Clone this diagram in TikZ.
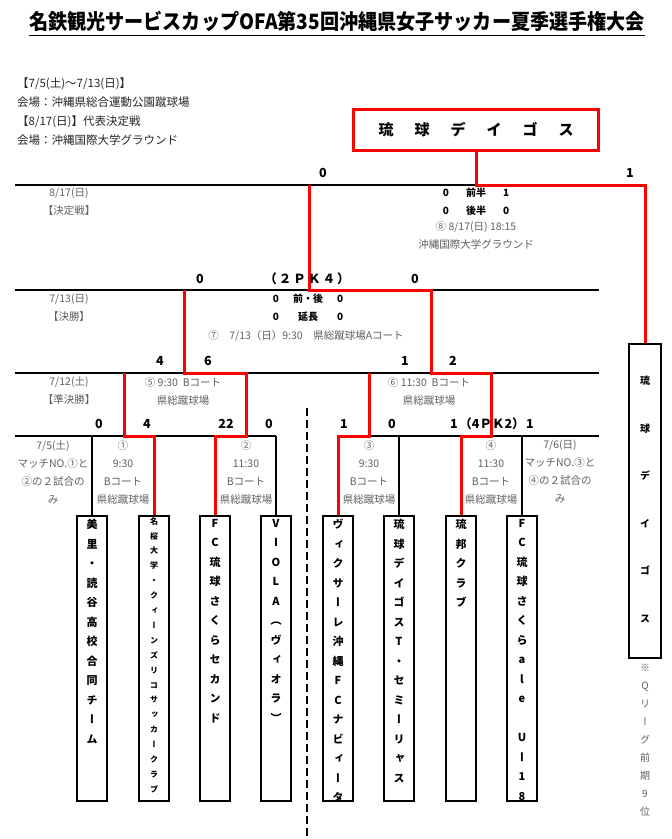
\documentclass[tikz,border=0pt]{standalone}
\usepackage{fontspec}
\setmainfont{Noto Sans CJK JP}
\newfontfamily\vfont{Noto Sans CJK JP}[RawFeature=+vert]
\usepackage{tikz}
\usetikzlibrary{positioning}
\definecolor{txtgray}{RGB}{95,95,95}
\tikzstyle{rule} = [line width=1.1pt]
\tikzstyle{win} = [red, line width=3pt]
\tikzstyle{team} = [draw, line width=1.1pt, minimum width=30pt, minimum height=285pt, inner sep=0pt]
\tikzstyle{tname} = [anchor=north, inner sep=0pt, align=center, font=\vfont\bfseries\fontsize{11}{19.5}\selectfont]
\tikzstyle{score} = [inner sep=0pt, font=\bfseries\fontsize{12.5}{14}\selectfont]
\tikzstyle{half} = [inner sep=0pt, font=\bfseries\fontsize{10}{12}\selectfont]
\tikzstyle{info} = [inner sep=0pt, text=txtgray, align=center, font=\fontsize{10.5}{18}\selectfont]

\begin{document}
\begin{tikzpicture}[yscale=-1]
			\useasboundingbox (0pt,0pt) rectangle (672pt,839pt);
			% title and dates
			\node[inner xsep=0pt, inner ysep=4pt, font=\bfseries\fontsize{21}{24}\selectfont] (title) at (337pt,21pt) {\scalebox{0.91}[1]{名鉄観光サービスカップOFA第35回沖縄県女子サッカー夏季選手権大会}};
			\draw[line width=1.2pt] (title.south west) -- (title.south east);
			\node[anchor=north west, align=left, inner sep=0pt, text=black!85, font=\fontsize{11.5}{19}\selectfont] (venue) at (17pt,78pt) {【7/5(土)～7/13(日)】\\会場：沖縄県総合運動公園蹴球場\\【8/17(日)】代表決定戦\\会場：沖縄国際大学グラウンド};
			% boxes
			\node[draw=red, line width=3pt, minimum width=245pt, minimum height=41pt, font=\bfseries\fontsize{15}{18}\selectfont] (champ) at (476pt,130pt) {琉\hspace{21pt}球\hspace{21pt}デ\hspace{21pt}イ\hspace{21pt}ゴ\hspace{21pt}ス};
			\node[team, minimum width=32pt, minimum height=314pt] (seed) at (645pt,501pt) {};
			\node[tname, font=\vfont\bfseries\fontsize{10}{47.5}\selectfont] (seedname) at (645pt,376pt) {琉\\球\\デ\\イ\\ゴ\\ス};
			\node[tname, font=\vfont\fontsize{10}{18}\selectfont, text=txtgray] (seednote) at (645pt,664pt) {※\\Q\\リ\\ー\\グ\\前\\期\\9\\位};
			\node[team] (t1) at (92pt,658.5pt) {};
			\node[team] (t2) at (154pt,658.5pt) {};
			\node[team] (t3) at (215pt,658.5pt) {};
			\node[team] (t4) at (276pt,658.5pt) {};
			\node[team] (t5) at (338pt,658.5pt) {};
			\node[team] (t6) at (399pt,658.5pt) {};
			\node[team] (t7) at (461pt,658.5pt) {};
			\node[team] (t8) at (522pt,658.5pt) {};
			\node[tname] (n1) at (92pt,519pt) {美\\里\\・\\読\\谷\\高\\校\\合\\同\\チ\\ー\\ム};
			\node[tname, font=\vfont\bfseries\fontsize{8}{14.9}\selectfont] (n2) at (154pt,517pt) {名\\桜\\大\\学\\・\\ク\\ィ\\ー\\ン\\ズ\\リ\\コ\\サ\\ッ\\カ\\ー\\ク\\ラ\\ブ};
			\node[tname] (n3) at (215pt,519pt) {F\\C\\琉\\球\\さ\\く\\ら\\セ\\カ\\ン\\ド};
			\node[tname] (n4) at (276pt,519pt) {V\\I\\O\\L\\A\\（\\ヴ\\ィ\\オ\\ラ\\）};
			\node[tname] (n5) at (338pt,519pt) {ヴ\\ィ\\ク\\サ\\ー\\レ\\沖\\縄\\F\\C\\ナ\\ビ\\ィ\\ー\\タ};
			\node[tname] (n6) at (399pt,519pt) {琉\\球\\デ\\イ\\ゴ\\ス\\T\\・\\セ\\ミ\\ー\\リ\\ャ\\ス};
			\node[tname] (n7) at (461pt,519pt) {琉\\邦\\ク\\ラ\\ブ};
			\node[tname] (n8) at (522pt,519pt) {F\\C\\琉\\球\\さ\\く\\ら\\a\\l\\e\\~\\U\\ー\\1\\8};
			% rows and columns
			\coordinate (r4) at (15pt,185pt);
			\coordinate (r3) at (15pt,290pt);
			\coordinate (r2) at (15pt,373pt);
			\coordinate (r1) at (15pt,436pt);
			\coordinate (re) at (599pt,0pt);
			\coordinate (c1) at (124pt,0pt);
			\coordinate (c2) at (246pt,0pt);
			\coordinate (c3) at (369pt,0pt);
			\coordinate (c4) at (491pt,0pt);
			\coordinate (c5) at (184pt,0pt);
			\coordinate (c6) at (431pt,0pt);
			\coordinate (c7) at (309pt,0pt);
			\draw[rule] (r4) -- (champ.south |- r4);
			\draw[rule] (r3) -- (re |- r3);
			\draw[rule] (r2) -- (re |- r2);
			\draw[rule] (r1) -- (t4.north |- r1);
			\draw[rule] (t5.north |- r1) -- (re |- r1);
			\foreach \t in {t1,t4,t6,t8}
				\draw[rule] (\t.north) -- (\t.north |- r1);
			\draw[line width=2.2pt, dash pattern=on 8pt off 4pt] (307pt,408pt) -- (307pt,839pt);
			% winners
			\draw[win] (t2.north) |- (c1 |- r1) -- (c1 |- r2);
			\draw[win] (t3.north) |- (c2 |- r1) -- (c2 |- r2) -| (c5 |- r3);
			\draw[win] (t5.north) |- (c3 |- r1) -- (c3 |- r2);
			\draw[win] (t7.north) |- (c4 |- r1) -- (c4 |- r2) -| (c6 |- r3) -| (c7 |- r4);
			\draw[win] (seed.north) |- (champ.south |- r4) -- (champ.south);
			% scores
			\node (sF1) at (323pt,173pt)[score]{0};
			\node (sF2) at (630pt,173pt)[score]{1};
			\node (sK1) at (200pt,279pt)[score]{0};
			\node (sKpk) at (307pt,279pt)[score]{（\,２\,Ｐ\,Ｋ\,４\,）};
			\node (sK2) at (415pt,279pt)[score]{0};
			\node (sS1) at (160pt,361pt)[score]{4};
			\node (sS2) at (208pt,361pt)[score]{6};
			\node (sS3) at (405pt,361pt)[score]{1};
			\node (sS4) at (453pt,361pt)[score]{2};
			\node (sA1) at (99pt,424pt)[score]{0};
			\node (sA2) at (147pt,424pt)[score]{4};
			\node (sA3) at (226pt,424pt)[score]{22};
			\node (sA4) at (269pt,424pt)[score]{0};
			\node (sA5) at (344pt,424pt)[score]{1};
			\node (sA6) at (392pt,424pt)[score]{0};
			\node (sA7) at (454pt,424pt)[score]{1};
			\node (sApk) at (492pt,424pt)[score]{（4ＰＫ2）};
			\node (sA8) at (530pt,424pt)[score]{1};
			% match details
			\node (hF1) at (476pt,193pt)[half]{0\hspace{17pt}前半\hspace{17pt}1};
			\node (hF2) at (476pt,211pt)[half]{0\hspace{17pt}後半\hspace{17pt}0};
			\node (dF1) at (476pt,227pt)[info]{⑧ 8/17(日) 18:15};
			\node (dF2) at (476pt,244pt)[info]{沖縄国際大学グラウンド};
			\node (hK1) at (308pt,299pt)[half]{0\hspace{14pt}前・後\hspace{14pt}0};
			\node (hK2) at (308pt,317pt)[half]{0\hspace{19pt}延長\hspace{19pt}0};
			\node (dK) at (306pt,336pt)[info]{⑦　7/13（日）9:30　県総蹴球場Aコート};
			\node (dS1) at (183pt,391pt)[info]{⑤ 9:30\ \ Bコート\\県総蹴球場};
			\node (dS2) at (429pt,391pt)[info]{⑥ 11:30\ \ Bコート\\県総蹴球場};
			\node (lF1) at (69pt,193pt)[info]{8/17(日)};
			\node (lF2) at (69pt,211pt)[info]{【決定戦】};
			\node (lK1) at (69pt,299pt)[info]{7/13(日)};
			\node (lK2) at (69pt,317pt)[info]{【決勝】};
			\node (lS) at (69pt,391pt)[info]{7/12(土)\\【準決勝】};
			\node (dA0) at (53pt,472pt)[info]{7/5(土)\\マッチNO.①と\\②の２試合の\\み};
			\node (dA1) at (123pt,472pt)[info]{①\\9:30\\Bコート\\県総蹴球場};
			\node (dA2) at (246pt,472pt)[info]{②\\11:30\\Bコート\\県総蹴球場};
			\node (dA3) at (369pt,472pt)[info]{③\\9:30\\Bコート\\県総蹴球場};
			\node (dA4) at (491pt,472pt)[info]{④\\11:30\\Bコート\\県総蹴球場};
			\node (dA5) at (560pt,472pt)[info]{7/6(日)\\マッチNO.③と\\④の２試合の\\み};
		\end{tikzpicture}
\end{document}
